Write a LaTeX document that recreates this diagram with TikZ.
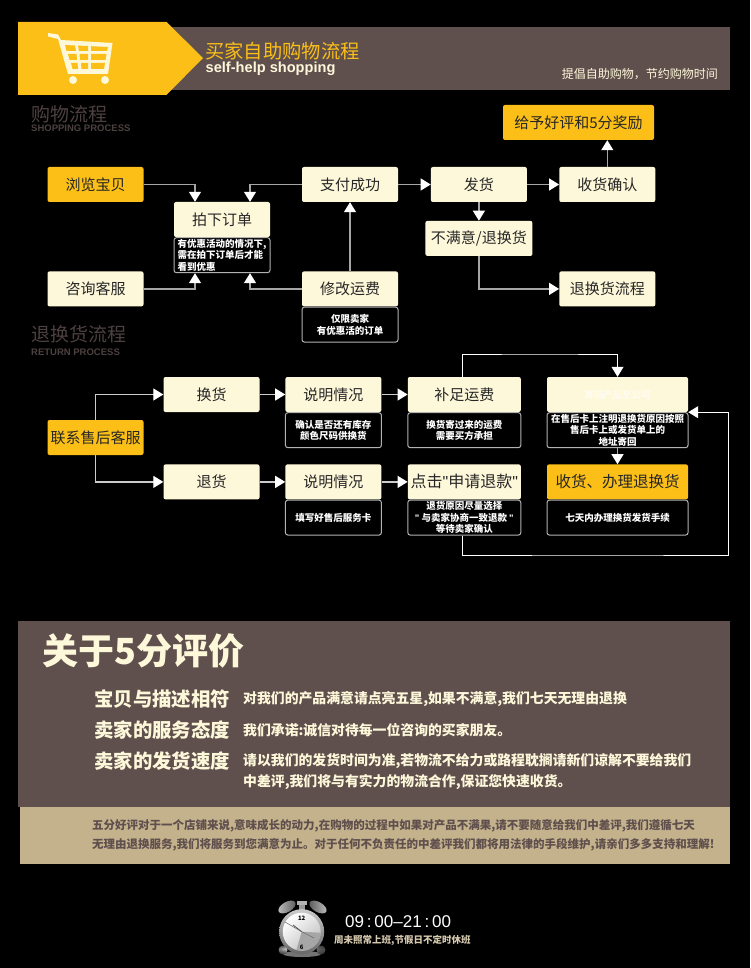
\documentclass[tikz,border=0pt]{standalone}
\usepackage{fontspec}
\setmainfont{Noto Sans CJK SC}
\newfontfamily\latinfont{Liberation Sans}
\usepackage{xcolor}
\usetikzlibrary{positioning, calc, arrows.meta}
\definecolor{gold}{HTML}{FBBF17}
\definecolor{cream}{HTML}{FEF8DA}
\definecolor{umber}{HTML}{5F4F4D}
\definecolor{sand}{HTML}{C4B28C}
\definecolor{dimtitle}{HTML}{4C4140}
\newcommand{\px}[1]{\fontsize{#1}{#1}\selectfont}
\newcommand{\straightquote}{{\latinfont\char34}}

\begin{document}
\begin{tikzpicture}[
    x = 1pt, y = -1pt, align=center,
    card/.style = {rectangle, fill = cream, rounded corners = 2pt, inner sep = 0pt, minimum width = 96pt, minimum height = 35pt, text = black!85, font = \px{15}},
    goldcard/.style = {card, fill = gold},
    remark/.style = {rectangle, fill = black, draw = black!30, line width = 1pt, rounded corners = 2.5pt, inner sep = 0pt, minimum width = 96pt, minimum height = 35pt, text = white, font = \fontsize{9.5}{11.5}\selectfont\bfseries},
    flow/.style = {arrows = ->, draw = black!35, line width = 1.3pt, > = {Triangle[width = 12pt, length = 10pt, color = white]}},
    thinflow/.style = {flow, draw = white, line width = 1pt},
    headline/.style = {anchor = west, inner sep = 0pt, text = dimtitle, font = \px{19}},
    subline/.style = {anchor = west, inner sep = 0pt, text = dimtitle, font = \latinfont\px{9.5}\bfseries},
    ratelabel/.style = {anchor = west, inner sep = 0pt, text = cream, font = \px{19.4}\bfseries},
    ratetext/.style = {anchor = west, inner sep = 0pt, text = cream, font = \px{13.85}\bfseries},
    sandtext/.style = {anchor = west, inner sep = 0pt, text = umber, font = \px{11.5}\bfseries},
    ]
    \useasboundingbox [fill = black] (0,0) rectangle (750,968);

    % draw banner
    \fill [umber] (160,27) rectangle (730,90);
    \fill [gold] (18,22) -- (166.5,22) -- (203,58) -- (166.5,95) -- (18,95) -- cycle;
    \fill [cream] (48,33) -- (58,34.5) -- (61,40) -- (112.5,43) -- (108,74) -- (68,74) -- (58,39) -- (48,36.5) -- cycle;
    \fill [gold] (65,45) -- (75,45.5) -- (76,51) -- (66.5,51) -- cycle;
    \fill [gold] (78,45.6) -- (88,46) -- (88,51) -- (79,51) -- cycle;
    \fill [gold] (91,46.2) -- (108,47) -- (107,51) -- (91,51) -- cycle;
    \fill [gold] (68,54) -- (76.5,54) -- (77,60) -- (69.5,60) -- cycle;
    \fill [gold] (79.5,54) -- (88,54) -- (88,60) -- (80,60) -- cycle;
    \fill [gold] (91,54) -- (106.5,54) -- (105.5,60) -- (91,60) -- cycle;
    \fill [gold] (71,63) -- (77.5,63) -- (78,69) -- (72.5,69) -- cycle;
    \fill [gold] (81,63) -- (88,63) -- (88,69) -- (81.5,69) -- cycle;
    \fill [gold] (91,63) -- (105,63) -- (104,69) -- (91,69) -- cycle;
    \fill [cream] (73,80) circle [radius = 4pt] (105,80) circle [radius = 4pt];
    \node [anchor = west, inner sep = 0pt, text = gold, font = \px{19.3}] (banner_title) at (205,51) {买家自助购物流程};
    \node [anchor = west, inner sep = 0pt, text = cream, font = \latinfont\px{14.6}\bfseries] (banner_sub) at (205.5,69) {self-help shopping};
    \node [anchor = east, inner sep = 0pt, text = cream, font = \px{12}] (banner_note) at (718,74) {提倡自助购物，节约购物时间};

    % draw shopping process
    \node [headline] (shop_head) at (31,114) {购物流程};
    \node [subline] (shop_sub) at (31,128.5) {SHOPPING PROCESS};

    \node [goldcard] (browse_item) at (95.5,184.5) {浏览宝贝};
    \node [card] (place_order) at (222,219.5) {拍下订单};
    \node [remark, anchor = north, align = left] (place_note) at (place_order.south) {有优惠活动的情况下,\\需在拍下订单后才能\\看到优惠};
    \node [card] (ask_service) [below = 69pt of browse_item] {咨询客服};
    \node [card] (pay_done) at (350,184.5) {支付成功};
    \node [card] (edit_fee) [below = 69pt of pay_done] {修改运费};
    \node [remark, anchor = north] (fee_note) at (edit_fee.south) {仅限卖家\\有优惠活的订单};
    \node [card] (ship_out) [right = 32.5pt of pay_done] {发货};
    \node [card] (got_goods) [right = 32pt of ship_out] {收货确认};
    \node [goldcard, minimum width = 151pt] (good_review) at (578.5,122.5) {给予好评和5分奖励};
    \node [card, minimum width = 107pt] (not_happy) [below = 18.5pt of ship_out] {不满意/退换货};
    \node [card] (return_flow) [below = 69pt of got_goods] {退换货流程};

    \draw [flow] (browse_item.east) -| ([xshift = -27pt]place_order.north);
    \draw [flow] (pay_done.west) -| ([xshift = 28pt]place_order.north);
    \draw [flow] (ask_service.east) -| ([xshift = -27pt]place_note.south);
    \draw [flow] (edit_fee.west) -| ([xshift = 28pt]place_note.south);
    \draw [flow] (edit_fee.north) -- (pay_done.south);
    \draw [flow] (pay_done.east) -- (ship_out.west);
    \draw [flow] (ship_out.east) -- (got_goods.west);
    \draw [flow] (got_goods.north) -- (got_goods.north |- good_review.south);
    \draw [flow] (ship_out.south) -- (not_happy.north);
    \draw [flow] (not_happy.south) |- (return_flow.west);

    % draw return process
    \node [headline] (return_head) at (31,334) {退换货流程};
    \node [subline] (return_sub) at (31,352) {RETURN PROCESS};

    \node [goldcard] (contact_service) at (95.5,437.5) {联系售后客服};
    \node [card] (swap_goods) at (211.5,394.5) {换货};
    \node [card] (back_goods) [below = 52pt of swap_goods] {退货};
    \node [card] (swap_explain) [right = 25.5pt of swap_goods] {说明情况};
    \node [remark, anchor = north] (swap_note) at (swap_explain.south) {确认是否还有库存\\颜色尺码供换货};
    \node [card] (back_explain) [right = 25.5pt of back_goods] {说明情况};
    \node [remark, anchor = north] (back_note) at (back_explain.south) {填写好售后服务卡};
    \node [card, minimum width = 113pt] (add_fee) [right = 26pt of swap_explain] {补足运费};
    \node [remark, anchor = north, minimum width = 113pt] (add_note) at (add_fee.south) {换货寄过来的运费\\需要买方承担};
    \node [card, minimum width = 113pt, font = \px{16}] (ask_refund) [right = 26pt of back_explain] {点击\straightquote 申请退款\straightquote};
    \node [remark, anchor = north, minimum width = 113pt] (refund_note) at (ask_refund.south) {退货原因尽量选择\\\straightquote\ 与卖家协商一致退款 \straightquote\\等待卖家确认};
    \node [card, minimum width = 141pt, text = white, font = \px{9.4}] (send_back) at (617.5,394.5) {寄回产品至公司};
    \node [remark, anchor = north, minimum width = 141pt] (send_note) at (send_back.south) {在售后卡上注明退换货原因按照\\售后卡上或发货单上的\\地址寄回};
    \node [goldcard, minimum width = 141pt, font = \px{15.5}] (handle_return) [below = 52pt of send_back] {收货、办理退换货};
    \node [remark, anchor = north, minimum width = 141pt] (handle_note) at (handle_return.south) {七天内办理换货发货手续};
    \coordinate (top_route) at (540,354);
    \coordinate (low_route) at (600,555);
    \coordinate (far_route) at (728,555);

    \draw [flow, draw = black!20] (contact_service.north) |- (swap_goods.west);
    \draw [flow, draw = black!20] (contact_service.south) |- (back_goods.west);
    \draw [flow, draw = black!20] (swap_goods.east) -- (swap_explain.west);
    \draw [flow, draw = black!20] (back_goods.east) -- (back_explain.west);
    \draw [flow, draw = black!20] (swap_explain.east) -- (add_fee.west);
    \draw [flow, draw = black!20] (back_explain.east) -- (ask_refund.west);
    \draw [thinflow] ([xshift = -2pt]add_fee.north) |- (top_route) -| (send_back.north);
    \draw [thinflow] ([xshift = -2pt]refund_note.south) |- (low_route) -- (far_route) |- (send_back.south east);
    \draw [flow] (send_note.south) -- (handle_return.north);

    % draw rating panel
    \fill [umber] (18,621) rectangle (730,807);
    \fill [sand] (20,807) rectangle (729.5,863.5);
    \node [anchor = west, inner sep = 0pt, text = cream, font = \px{36}\bfseries] (rate_title) at (42,651) {关于5分评价};
    \node [ratelabel] (item_match) at (94,699) {宝贝与描述相符};
    \node [ratelabel] (item_service) at (94,730) {卖家的服务态度};
    \node [ratelabel] (item_speed) at (94,761) {卖家的发货速度};
    \node [ratetext] (text_match) at (243,699) {对我们的产品满意请点亮五星,如果不满意,我们七天无理由退换};
    \node [ratetext] (text_service) at (243,730) {我们承诺:诚信对待每一位咨询的买家朋友。};
    \node [ratetext] (text_speed) at (243,761) {请以我们的发货时间为准,若物流不给力或路程耽搁请新们谅解不要给我们};
    \node [ratetext] (text_speed2) at (243,782) {中差评,我们将与有实力的物流合作,保证您快速收货。};
    \node [sandtext] (sand_one) at (92,826) {五分好评对于一个店铺来说,意味成长的动力,在购物的过程中如果对产品不满果,请不要随意给我们中差评,我们遵循七天};
    \node [sandtext] (sand_two) at (92,845) {无理由退换服务,我们将服务到您满意为止。对于任何不负责任的中差评我们都将用法律的手段维护,请亲们多多支持和理解!};

    % draw clock
    \fill [black!55] (302,954) ellipse [x radius = 19pt, y radius = 3pt];
    \shade [left color = black!25, right color = black!65, rotate around = {30:(287,907)}] (287,907) ellipse [x radius = 9.5pt, y radius = 5pt];
    \shade [left color = black!65, right color = black!25, rotate around = {-30:(318,907)}] (318,907) ellipse [x radius = 9.5pt, y radius = 5pt];
    \fill [black!40] (299,905) rectangle (305,911);
    \fill [black!30] (297,901) rectangle (307,905);
    \shade [ball color = black!35] (283,950) circle [radius = 4.5pt] (321,950) circle [radius = 4.5pt];
    \shade [top color = black!20, bottom color = black!60] (301.7,931.7) circle [radius = 22.5pt];
    \shade [left color = white, right color = black!25, shading angle = 40] (301.7,931.7) circle [radius = 19pt];
    \begin{scope}
        \clip (301.7,931.7) circle [radius = 19pt];
        \fill [black!35] (301.7,931.7) -- (325,933) -- (325,955) -- (295,955) -- cycle;
    \end{scope}
    \draw [black!70, line width = 0.8pt] (301.7,931.7) -- (293,925);
    \draw [black!60, line width = 0.5pt] (301.7,931.7) -- (314,938);
    \draw [black!60, line width = 0.5pt] (301.7,931.7) -- (285,922);
    \node [inner sep = 0pt, text = black, font = \px{6}\bfseries] (clock_top) at (301.7,918) {12};
    \node [inner sep = 0pt, text = black, font = \px{6}\bfseries] (clock_low) at (301.7,947) {6};
    \node [anchor = west, inner sep = 0pt, text = white, font = \latinfont\px{17}] (work_time) at (345,922) {09\,:\,00–21\,:\,00};
    \node [anchor = west, inner sep = 0pt, text = sand!70!white, font = \px{9.5}\bfseries] (work_note) at (334,940) {周未照常上班,节假日不定时休班};
\end{tikzpicture}
\end{document}
